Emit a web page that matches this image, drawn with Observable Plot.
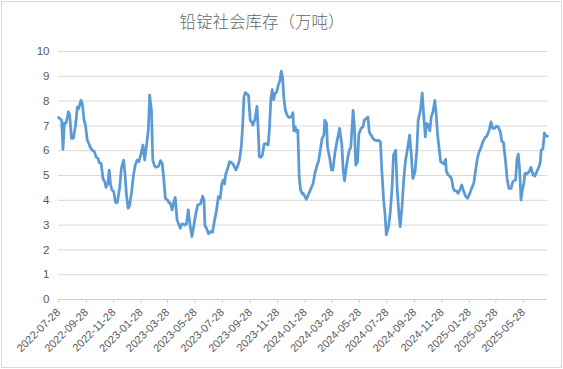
<!DOCTYPE html>
<html>
<head>
<meta charset="utf-8">
<script src="https://cdn.jsdelivr.net/npm/d3@7"></script>
<script src="https://cdn.jsdelivr.net/npm/@observablehq/plot@0.6"></script>
<style>
  body { margin: 0; background: #fff; }
  #wrap { position: relative; width: 563px; height: 369px; overflow: hidden; background: #fff; }
  #frame { position: absolute; left: 1px; top: 1px; width: 561px; height: 367px; border: 1px solid #d9d9d9; box-sizing: border-box; pointer-events: none; }
  #title { position: absolute; left: 0; width: 524px; top: 9px; text-align: center; font-family: "Noto Sans CJK SC", sans-serif; font-weight: 300; font-size: 16.5px; color: #666; white-space: nowrap; }
  #chart svg { display: block; }
</style>
</head>
<body>
<div id="wrap">
  <div id="chart"></div>
  <div id="title"></div>
  <div id="frame"></div>
</div>
<script>
const title = "铅锭社会库存（万吨）";
const startDate = "2022-07-28";

// days since 2022-07-28 for each observation
const days = [
  0,7,10,13,17,22,25,29,33,38,42,45,50,53,57,60,64,68,71,75,80,84,88,91,95,99,103,106,110,113,116,119,123,127,131,136,140,145,148,151,155,158,163,167,171,175,179,183,188,192,197,200,203,207,210,214,218,223,227,231,234,238,243,246,249,253,257,260,264,
  271,275,281,285,289,293,297,301,306,310,316,321,324,326,331,334,338,343,347,352,356,360,364,367,370,372,377,381,386,390,395,399,403,407,410,413,416,420,423,427,430,433,438,442,445,447,451,454,458,462,467,470,473,476,479,482,486,490,493,496,499,502,505,509,513,518,522,524,527,530,533,536,539,543,
  545,549,552,556,561,567,571,576,579,583,587,591,593,597,599,604,608,611,616,620,626,631,634,637,640,644,648,651,656,659,662,666,669,674,678,681,686,689,692,696,702,708,713,717,720,724,727,730,735,739,743,746,751,754,758,761,765,769,773,778,782,786,789,794,798,801,806,
  810,814,817,820,824,827,830,834,838,841,844,847,851,855,858,862,864,868,873,876,879,882,886,890,894,898,902,907,911,916,920,925,929,933,936,941,945,950,954,959,963,967,971,975,979,984,987,991,996,999,1003,1008,1011,1014,1018,1021,1024,1027,1030,1033,1036,1039,1043,1048,1052,1057,1061,1065,1070,1073,1075,1079,1082,1086,1089
];

// inventory (10k tonnes)
const values = [
  7.34,7.23,6.05,7.1,7.12,7.57,7.43,6.5,6.5,7.03,7.77,7.7,8.03,7.9,7.23,7.03,6.43,6.27,6.13,6.02,5.96,5.73,5.69,5.51,5.49,4.88,4.75,4.52,4.68,5.22,4.62,4.42,4.35,3.91,3.91,4.48,5.29,5.62,5.09,4.28,3.68,3.77,4.35,5.02,5.42,5.62,5.56,5.82,6.23,5.62,6.36,6.83,8.24,7.63,5.62,5.38,5.33,5.38,5.6,5.49,4.95,4.08,4.01,3.91,3.88,3.61,3.95,4.12,3.21,
  2.87,3.05,3.0,3.05,3.61,3.0,2.54,2.94,3.48,3.81,3.85,4.17,4.01,3.0,2.81,2.65,2.74,2.71,3.14,3.61,4.15,4.08,4.68,4.82,4.66,5.02,5.29,5.56,5.51,5.42,5.22,5.38,5.62,6.16,6.96,8.17,8.34,8.28,8.24,7.23,7.16,7.03,7.3,7.79,6.76,5.76,5.73,5.82,6.27,6.29,6.23,6.96,8.1,8.46,8.06,8.3,8.37,8.68,8.81,9.21,8.97,8.1,7.66,7.43,7.34,7.36,7.53,6.8,6.96,6.76,6.83,4.95,4.42,4.26,
  4.28,4.15,4.04,4.21,4.42,4.68,5.09,5.42,5.56,6.02,6.49,6.63,7.23,7.1,6.16,5.69,5.22,5.22,5.96,6.36,6.9,6.23,5.22,4.79,5.22,5.69,6.05,6.13,7.63,6.96,5.42,5.56,6.69,6.9,6.96,7.23,7.3,7.36,6.76,6.63,6.45,6.4,6.42,6.36,5.22,4.01,3.48,2.61,2.94,3.54,4.55,5.82,6.02,4.55,3.48,2.94,3.75,4.88,5.62,6.16,6.63,5.76,4.88,5.15,6.02,7.23,7.63,
  8.33,7.23,6.56,7.1,7.03,6.8,7.36,7.57,8.03,7.5,6.69,6.18,5.56,5.51,5.46,5.65,5.15,5.02,4.95,4.82,4.48,4.39,4.38,4.28,4.42,4.62,4.38,4.15,4.08,4.28,4.48,4.71,5.22,5.69,5.92,6.13,6.36,6.53,6.59,6.83,7.16,6.9,6.9,6.99,6.96,6.76,6.39,6.32,5.49,4.88,4.48,4.48,4.71,4.79,4.82,5.65,5.86,5.22,4.01,4.42,4.66,5.09,5.06,5.15,5.33,5.02,4.98,5.15,5.35,5.56,6.02,6.09,6.72,6.59,6.59
];

const tickLabels = [
  "2022-07-28","2022-09-28","2022-11-28","2023-01-28","2023-03-28","2023-05-28",
  "2023-07-28","2023-09-28","2023-11-28","2024-01-28","2024-03-28","2024-05-28",
  "2024-07-28","2024-09-28","2024-11-28","2025-01-28","2025-03-28","2025-05-28"
];
const yTicks = [0,1,2,3,4,5,6,7,8,9,10];

const start = new Date(startDate + "T00:00:00Z");
const data = days.map((d, i) => ({ date: d3.utcDay.offset(start, d), value: values[i] }));
const tickDates = tickLabels.map(s => new Date(s + "T00:00:00Z"));
const fmt = d3.utcFormat("%Y-%m-%d");

const chart = Plot.plot({
  width: 563,
  height: 369,
  marginLeft: 58,
  marginRight: 16,
  marginTop: 51,
  marginBottom: 70,
  style: { fontFamily: '"Liberation Sans", Arial, sans-serif', fontSize: "11px", background: "transparent", color: "#595959" },
  x: { type: "utc", domain: d3.extent(data, d => d.date) },
  y: { domain: [0, 10] },
  marks: [
    Plot.gridY(yTicks.filter(v => v > 0), { stroke: "#d9d9d9", strokeOpacity: 1, strokeWidth: 1 }),
    Plot.ruleY([0], { stroke: "#d0d0d0", strokeWidth: 1 }),
    Plot.axisY(yTicks, { tickSize: 0, tickPadding: 9, fontSize: 11.5, fill: "#595959", label: null }),
    Plot.axisX(tickDates, { tickFormat: fmt, tickRotate: -45, tickSize: 4, tickPadding: 7, stroke: "#d0d0d0", fill: "#595959", label: null }),
    Plot.line(data, { x: "date", y: "value", stroke: "#5b9bd5", strokeWidth: 2.75, strokeLinejoin: "round", strokeLinecap: "round" })
  ]
});

document.getElementById("chart").appendChild(chart);
document.getElementById("title").textContent = title;
</script>
</body>
</html>
